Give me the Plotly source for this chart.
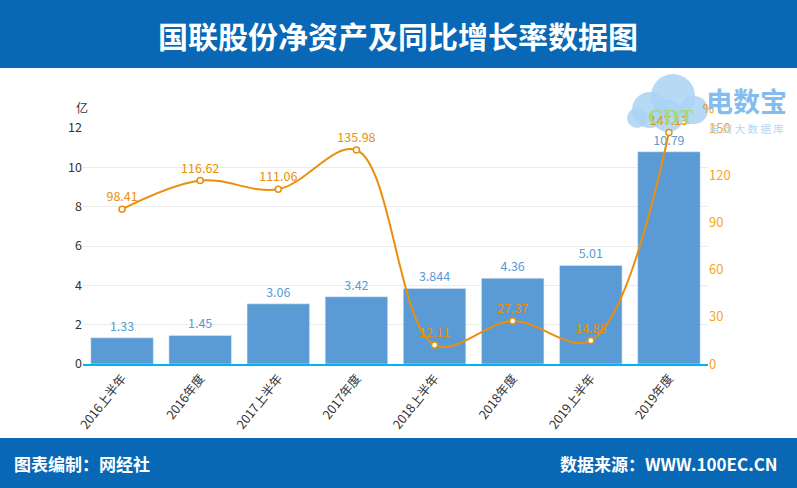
import plotly.graph_objects as go

categories = ["2016上半年", "2016年度", "2017上半年", "2017年度", "2018上半年", "2018年度", "2019上半年", "2019年度"]
net_assets = [1.33, 1.45, 3.06, 3.42, 3.844, 4.36, 5.01, 10.79]
growth_rate = [98.41, 116.62, 111.06, 135.98, 12.11, 27.37, 14.88, 147.13]
left_ticks = [0, 2, 4, 6, 8, 10, 12]
right_ticks = [0, 30, 60, 90, 120, 150]

FONT = "Noto Sans CJK SC"
BLUE_BAR = "#5B9BD5"
ORANGE = "#E8900C"
BAND = "#0868B5"

W, H = 797, 488
L, R, T, B = 83, 89, 128, 124
pw, ph = W - L - R, H - T - B

def px(x):
    return (x - L) / pw

def py(y):
    return (H - B - y) / ph

fig = go.Figure()
fig.add_trace(go.Bar(
    x=categories, y=net_assets, marker_color=BLUE_BAR,
    text=[str(v) for v in net_assets], textposition="outside",
    textfont=dict(color=BLUE_BAR, size=12.5, family=FONT),
    cliponaxis=False, yaxis="y", name="净资产", showlegend=False,
))
fig.add_trace(go.Scatter(
    x=categories, y=growth_rate, mode="lines+markers+text",
    line=dict(color=ORANGE, width=2, shape="spline", smoothing=1),
    marker=dict(size=6, color="white", line=dict(color=ORANGE, width=1.5)),
    text=[f"{v:.2f}" for v in growth_rate], textposition="top center",
    textfont=dict(color=ORANGE, size=12.5, family=FONT),
    cliponaxis=False, yaxis="y2", name="同比增长率", showlegend=False,
))

shapes = [
    dict(type="rect", xref="paper", yref="paper", x0=px(0), x1=px(W), y0=py(68), y1=py(0),
         fillcolor=BAND, line_width=0, layer="below"),
    dict(type="rect", xref="paper", yref="paper", x0=px(0), x1=px(W), y0=py(H), y1=py(438),
         fillcolor=BAND, line_width=0, layer="below"),
]
# logo cloud (watermark)
cloud = [(650, 110, 18), (673, 96, 22), (694, 110, 14), (637, 118, 10), (668, 116, 16)]
for cx, cy, r in cloud:
    shapes.append(dict(type="circle", xref="paper", yref="paper",
                       x0=px(cx - r), x1=px(cx + r), y0=py(cy + r), y1=py(cy - r),
                       fillcolor="#A9D2F5", line_width=0, opacity=0.85, layer="below"))

def note(text, x, y, size, color, weight="normal", family=FONT, xanchor="center"):
    return dict(text=text, xref="paper", yref="paper", x=px(x), y=py(y),
                xanchor=xanchor, yanchor="middle", showarrow=False,
                font=dict(color=color, size=size, family=family, weight=weight))

annotations = [
    note("国联股份净资产及同比增长率数据图", W / 2 - 1, 35, 30, "white", "bold"),
    note("图表编制：网经社", 12, 463, 17, "white", "bold", xanchor="left"),
    note("数据来源：WWW.100EC.CN", 780, 463, 17, "white", "bold", xanchor="right"),
    note("亿", 82, 107, 12, "#333333"),
    note("%", 708, 107, 12, ORANGE),
    note("CDT", 671, 117, 19, "#A8D67A", "bold", family="DejaVu Serif"),
    note("电数宝", 746, 100, 27, "#85BCEF", "bold"),
    note("电 商 大 数 据 库", 746, 128, 10.5, "#B5D6F4"),
]

fig.update_layout(
    width=W, height=H, margin=dict(l=L, r=R, t=T, b=B),
    paper_bgcolor="white", plot_bgcolor="white",
    bargap=0.2,
    font=dict(family=FONT, color="#333333", size=12),
    xaxis=dict(tickangle=-52, showline=True, linecolor="#00B4F0", linewidth=2,
               ticks="", tickfont=dict(size=12.5, color="#333333"), showgrid=False),
    yaxis=dict(range=[0, 12], tickvals=left_ticks, showgrid=True, gridcolor="#EBEBEB",
               zeroline=False, showline=False, tickfont=dict(size=12.5, color="#333333"),
               ticksuffix=" "),
    yaxis2=dict(range=[0, 150], tickvals=right_ticks, overlaying="y", side="right",
                showgrid=False, zeroline=False, showline=False,
                tickfont=dict(size=13, color="#F5A623"), tickprefix="  "),
    shapes=shapes, annotations=annotations,
)
fig.write_html("out.html", config={"displayModeBar": False},
               post_script="document.body.style.margin='0';")
